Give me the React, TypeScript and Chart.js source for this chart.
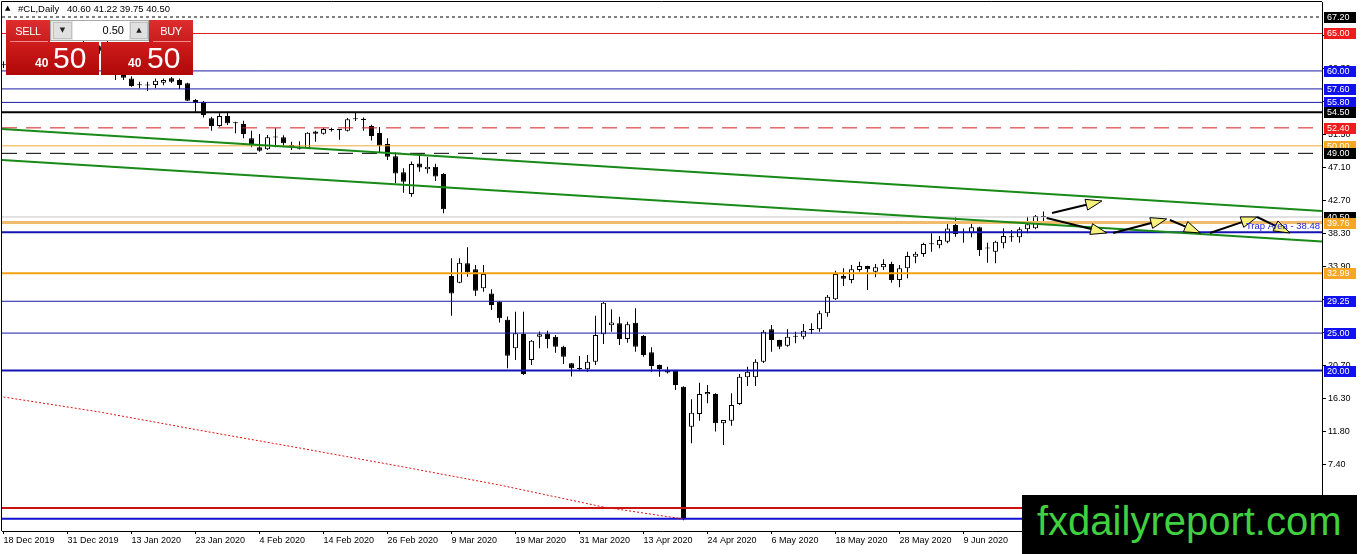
import React, { useEffect, useRef } from "react";
import { Chart, registerables } from "chart.js";

Chart.register(...registerables);

// ---- x axis (bar index) date labels ----
const tickBars = [0, 8, 16, 24, 32, 40, 48, 56, 64, 72, 80, 88, 96, 104, 112, 120];
const tickDates = [
  "18 Dec 2019", "31 Dec 2019", "13 Jan 2020", "23 Jan 2020", "4 Feb 2020", "14 Feb 2020",
  "26 Feb 2020", "9 Mar 2020", "19 Mar 2020", "31 Mar 2020", "13 Apr 2020", "24 Apr 2020",
  "6 May 2020", "18 May 2020", "28 May 2020", "9 Jun 2020",
];

// ---- price axis tick labels ----
const priceTicks = [64.7, 60.3, 55.9, 51.5, 47.1, 42.7, 38.3, 33.9, 29.5, 25.1, 20.7, 16.3, 11.8, 7.4, 2.9];

// ---- daily OHLC (#CL) ----
const opens = [
  60.9, 60.9, 61.2, 60.4, 60.5, 61.1, 61.7, 61.7, 61.7, 61.2, 61.2, 63.0, 63.3, 62.7, 59.7, 59.6,
  59.0, 58.12, 58.2, 58.12, 58.43, 59.02, 58.79, 58.35, 56.12, 55.9, 53.68, 52.65, 53.98, 53.1, 52.92, 51.0,
  49.8, 49.54, 51.2, 51.14, 50.1, 49.6, 49.67, 51.9, 51.6, 52.1, 52.15, 52.02, 53.6, 53.6, 52.65, 51.7,
  50.25, 48.6, 46.46, 43.57, 47.65, 46.87, 47.2, 46.25, 32.62, 31.73, 34.32, 33.52, 30.98, 30.3, 29.2, 26.79,
  22.97, 24.88, 21.41, 24.5, 24.9, 24.52, 23.18, 20.97, 20.3, 20.17, 21.18, 24.84, 26.05, 26.3, 24.2, 26.38,
  24.61, 22.44, 20.75, 20.05, 19.98, 17.85, 12.51, 14.2, 16.83, 16.87, 12.96, 13.31, 15.54, 19.1, 19.1, 21.18,
  25.51, 24.08, 23.32, 24.5, 24.52, 25.55, 25.51, 27.65, 29.51, 32.62, 32.09, 33.43, 33.96, 33.2, 33.78, 34.22,
  32.09, 33.65, 35.2, 35.56, 36.85, 36.73, 37.2, 39.43, 38.45, 38.41, 39.12, 36.35, 35.87, 36.99, 37.79, 37.79,
  38.86, 38.99, 40.6,
];
const highs = [
  61.3, 61.4, 61.4, 60.7, 61.2, 61.8, 62.3, 62.0, 61.9, 61.6, 64.1, 63.8, 63.4, 65.6, 60.2, 60.0,
  59.3, 58.56, 58.56, 59.0, 59.0, 59.2, 59.0, 58.43, 56.25, 56.0, 53.9, 54.34, 54.56, 53.22, 53.36, 52.0,
  51.58, 51.45, 52.34, 51.4, 50.55, 50.6, 51.8, 52.0, 52.4, 52.4, 52.2, 53.7, 54.43, 53.8, 52.8, 52.5,
  51.0, 49.1, 47.0, 47.9, 48.8, 48.5, 47.6, 46.33, 35.0, 35.0, 36.45, 34.1, 34.1, 30.84, 29.3, 27.2,
  27.86, 27.86, 24.08, 25.2, 25.32, 24.75, 23.3, 21.0, 21.95, 22.08, 27.3, 29.2, 28.18, 27.18, 26.52, 28.31,
  24.74, 23.1, 20.8, 20.5, 20.05, 17.9, 16.17, 18.38, 18.07, 16.96, 13.4, 16.96, 19.54, 20.52, 21.5, 25.42,
  26.08, 24.1, 25.51, 25.19, 26.22, 26.31, 27.99, 30.09, 33.33, 33.65, 34.09, 34.53, 34.0, 34.22, 34.85, 34.53,
  34.09, 35.87, 35.87, 37.07, 38.32, 37.96, 39.65, 40.45, 38.98, 39.74, 39.2, 37.07, 37.34, 38.99, 38.76, 39.12,
  40.54, 40.76, 41.22,
];
const lows = [
  60.4, 60.6, 60.2, 60.0, 60.4, 61.0, 61.5, 61.4, 60.6, 60.6, 61.0, 62.3, 62.3, 59.6, 58.8, 58.8,
  57.9, 57.68, 57.32, 57.68, 58.1, 58.39, 57.6, 56.0, 54.56, 53.8, 52.0, 52.56, 52.78, 51.67, 51.0, 49.8,
  49.22, 49.45, 49.8, 49.9, 49.45, 49.5, 49.6, 50.55, 51.5, 51.9, 50.8, 51.9, 53.3, 52.0, 50.7, 49.1,
  48.1, 45.0, 43.75, 43.2, 46.55, 46.3, 45.3, 41.0, 27.3, 31.65, 32.53, 29.95, 30.53, 28.1, 26.43, 20.3,
  21.4, 19.4, 20.75, 22.97, 22.97, 22.38, 20.87, 19.2, 19.98, 19.85, 20.75, 23.55, 25.18, 23.41, 23.72, 22.52,
  21.85, 19.85, 19.18, 19.6, 17.4, 0.0, 10.29, 13.31, 15.63, 11.85, 10.06, 12.64, 15.4, 17.94, 17.94, 21.0,
  22.52, 22.85, 23.18, 23.65, 24.19, 24.88, 25.19, 27.19, 29.42, 31.28, 31.65, 33.2, 30.76, 32.45, 33.43, 31.73,
  31.12, 32.32, 34.31, 35.2, 35.87, 36.32, 36.99, 37.87, 37.07, 37.79, 35.3, 34.4, 34.31, 36.32, 37.2, 37.07,
  38.32, 38.86, 39.75,
];
const closes = [
  60.9, 61.2, 60.4, 60.5, 61.1, 61.7, 61.7, 61.7, 61.1, 61.2, 63.0, 63.3, 62.7, 59.7, 59.6, 59.1,
  58.0, 58.1, 58.2, 58.7, 58.79, 58.56, 58.12, 56.03, 55.72, 54.12, 52.65, 53.98, 53.0, 53.0, 51.58, 50.25,
  49.35, 51.14, 51.1, 50.34, 49.8, 49.7, 51.75, 51.6, 52.25, 52.2, 52.1, 53.55, 53.55, 53.45, 51.3, 50.0,
  48.55, 46.3, 45.2, 47.57, 47.1, 47.2, 45.9, 41.53, 30.3, 34.4, 33.12, 30.66, 32.9, 28.76, 26.98, 21.98,
  24.97, 19.54, 23.99, 24.85, 24.2, 23.18, 21.85, 20.3, 20.2, 21.18, 24.74, 29.06, 26.4, 24.2, 26.17, 23.18,
  22.07, 20.6, 20.2, 19.75, 18.07, 0.15, 14.38, 16.87, 17.14, 12.96, 13.4, 15.4, 19.18, 19.85, 21.18, 25.19,
  24.08, 23.18, 24.52, 24.55, 25.32, 25.4, 27.65, 29.86, 32.9, 32.26, 33.52, 33.96, 33.52, 33.78, 34.22, 32.09,
  33.65, 35.29, 35.58, 36.9, 36.95, 37.43, 38.98, 38.23, 38.4, 39.12, 36.1, 36.3, 37.2, 37.96, 37.8, 38.86,
  39.52, 40.63, 40.5,
];

// ---- red dotted indicator line ----
const maBars = [0, 12, 25, 37, 50, 62, 75, 85];
const maValues = [16.47, 14.47, 11.93, 9.66, 7.13, 4.72, 1.78, 0.18];

// ---- green trend channel (values at left and right edge) ----
const upperTrend = [52.25, 41.3];
const lowerTrend = [48.11, 37.23];

// ---- horizontal levels ----
const levelValues = [67.2, 65.0, 60.0, 57.6, 55.8, 54.5, 52.4, 50.0, 49.0, 40.5, 39.76, 38.48, 32.99, 29.25, 25.0, 20.0, 1.65, 0.2];
const levelColors = [
  "#000000", "#e01b1b", "#1c1ca6", "#1c1ca6", "#1c1ca6", "#000000", "#d81c1c", "#f2a93b", "#000000",
  "#c4c4c4", "#f0bc6c", "#1414b4", "#f5a20f", "#1c1ca6", "#1c1ca6", "#1414b4", "#cc1111", "#1010d0",
];
const levelWidths = [1, 1, 1, 1, 1, 2, 1, 1, 1, 1, 3, 2, 2, 1, 1, 2, 2, 2];
const levelDashes = [[3, 3], [], [], [], [], [], [15, 9], [], [15, 9], [], [], [], [], [], [], [], [], []];
const tagColors = [
  "#000000", "#ee1c1c", "#1010f0", "#1010f0", "#1010f0", "#000000", "#ee1c1c", "#f5a623", "#000000",
  "#000000", "#f5a623", "", "#f5a623", "#1010f0", "#1010f0", "#1010f0", "", "",
];
const trapText = "Trap Area - 38.48";
const trapLevel = 38.48;

// ---- arrows (bar index, price) ----
const arrowFromBar = [131.06, 130.4, 138.7, 145.8, 150.8, 156.7];
const arrowFromPrice = [41.04, 40.37, 38.37, 40.1, 38.37, 40.5];
const arrowToBar = [137.3, 137.9, 145.4, 149.6, 156.7, 160.8];
const arrowToPrice = [42.64, 38.37, 40.24, 38.37, 40.5, 38.37];

const X_MIN = -0.1875;
const X_MAX = 164.8125;
const Y_MIN = -1.42;
const Y_MAX = 69.203;

const FONT = "'Liberation Sans', Arial, sans-serif";

const overlayPlugin = {
  id: "overlay",
  afterDraw(chart: any) {
    const { ctx, chartArea, scales } = chart;
    const xs = scales.x;
    const ys = scales.y;
    ctx.save();
    // frame top/left
    ctx.strokeStyle = "#000";
    ctx.lineWidth = 1;
    ctx.beginPath();
    ctx.moveTo(chartArea.left - 0.5, chartArea.bottom);
    ctx.lineTo(chartArea.left - 0.5, chartArea.top - 0.5);
    ctx.lineTo(chartArea.right, chartArea.top - 0.5);
    ctx.stroke();

    // arrows
    for (let k = 0; k < arrowFromBar.length; k++) {
      const x1 = xs.getPixelForValue(arrowFromBar[k]);
      const y1 = ys.getPixelForValue(arrowFromPrice[k]);
      const x2 = xs.getPixelForValue(arrowToBar[k]);
      const y2 = ys.getPixelForValue(arrowToPrice[k]);
      const ang = Math.atan2(y2 - y1, x2 - x1);
      const L = 16;
      const W = 5.5;
      const bx = x2 - L * Math.cos(ang);
      const by = y2 - L * Math.sin(ang);
      ctx.strokeStyle = "#000";
      ctx.lineWidth = 2;
      ctx.beginPath();
      ctx.moveTo(x1, y1);
      ctx.lineTo(bx, by);
      ctx.stroke();
      ctx.beginPath();
      ctx.moveTo(x2, y2);
      ctx.lineTo(bx + W * Math.sin(ang), by - W * Math.cos(ang));
      ctx.lineTo(bx - W * Math.sin(ang), by + W * Math.cos(ang));
      ctx.closePath();
      ctx.fillStyle = "#f6f07c";
      ctx.fill();
      ctx.lineWidth = 1;
      ctx.stroke();
    }

    // trap area text
    ctx.fillStyle = "#2323d8";
    ctx.font = `9.5px ${FONT}`;
    ctx.textAlign = "right";
    ctx.textBaseline = "alphabetic";
    ctx.fillText(trapText, chartArea.right - 2, ys.getPixelForValue(trapLevel) - 3);

    // level tags on the price axis
    ctx.font = `9px ${FONT}`;
    ctx.textAlign = "left";
    ctx.textBaseline = "middle";
    for (let k = 0; k < levelValues.length; k++) {
      if (!tagColors[k]) continue;
      const y = Math.round(ys.getPixelForValue(levelValues[k]));
      ctx.fillStyle = tagColors[k];
      ctx.fillRect(chartArea.right + 2, y - 5, 32, 11);
      ctx.fillStyle = "#ffffff";
      ctx.fillText(levelValues[k].toFixed(2), chartArea.right + 5, y + 0.5);
    }
    ctx.restore();
  },
};

export default function App() {
  const ref = useRef<HTMLCanvasElement>(null);

  useEffect(() => {
    const canvas = ref.current;
    if (!canvas) return;
    const wicks = opens.map((_, i) => ({ x: i, y: [lows[i], highs[i]] }));
    const bodies = opens.map((o, i) => ({ x: i, y: [o, closes[i]] }));
    const bodyFill = opens.map((o, i) => (closes[i] >= o ? "#ffffff" : "#000000"));

    const levelSets = levelValues.map((v, k) => ({
      type: "line" as const,
      data: [{ x: X_MIN, y: v }, { x: X_MAX, y: v }],
      borderColor: levelColors[k],
      borderWidth: levelWidths[k],
      borderDash: levelDashes[k],
      pointRadius: 0,
      order: 2,
    }));

    const chart = new Chart(canvas, {
      type: "bar",
      data: {
        datasets: [
          {
            type: "bar",
            data: wicks as any,
            backgroundColor: "#000000",
            borderWidth: 0,
            barThickness: 1,
            grouped: false,
            inflateAmount: 0,
            order: 10,
          } as any,
          {
            type: "bar",
            data: bodies as any,
            backgroundColor: bodyFill,
            borderColor: "#000000",
            borderWidth: 1,
            borderSkipped: false,
            barThickness: 5,
            minBarLength: 1,
            grouped: false,
            inflateAmount: 0,
            order: 9,
          } as any,
          ...levelSets,
          {
            type: "line",
            data: [{ x: X_MIN, y: upperTrend[0] }, { x: X_MAX, y: upperTrend[1] }],
            borderColor: "#178a17",
            borderWidth: 2,
            pointRadius: 0,
            order: 1,
          },
          {
            type: "line",
            data: [{ x: X_MIN, y: lowerTrend[0] }, { x: X_MAX, y: lowerTrend[1] }],
            borderColor: "#178a17",
            borderWidth: 2,
            pointRadius: 0,
            order: 1,
          },
          {
            type: "line",
            data: maBars.map((b, k) => ({ x: b, y: maValues[k] })),
            borderColor: "#dd1111",
            borderWidth: 1,
            borderDash: [2, 2],
            pointRadius: 0,
            order: 1,
          },
        ] as any,
      },
      options: {
        animation: false,
        responsive: false,
        maintainAspectRatio: false,
        devicePixelRatio: 1,
        events: [],
        layout: { padding: { left: 2, top: 2, right: 0, bottom: 0 } },
        font: { family: FONT },
        plugins: { legend: { display: false }, tooltip: { enabled: false } },
        scales: {
          x: {
            type: "linear",
            position: "bottom",
            min: X_MIN,
            max: X_MAX,
            offset: false,
            bounds: "data",
            grid: { drawOnChartArea: false, drawTicks: true, tickLength: 3, color: "#000", offset: false },
            border: { display: true, color: "#000" },
            ticks: {
              autoSkip: false,
              maxRotation: 0,
              minRotation: 0,
              align: "start",
              padding: 1,
              color: "#000",
              font: { size: 9, family: FONT },
              callback: (v: any) => {
                const k = tickBars.indexOf(Number(v));
                return k >= 0 ? tickDates[k] : "";
              },
            },
            afterBuildTicks: (s: any) => {
              s.ticks = tickBars.map((v) => ({ value: v }));
            },
            afterFit: (s: any) => {
              s.height = 23;
              s.paddingLeft = 0;
              s.paddingRight = 0;
            },
          } as any,
          y: {
            type: "linear",
            position: "right",
            min: Y_MIN,
            max: Y_MAX,
            bounds: "data",
            grid: { drawOnChartArea: false, drawTicks: true, tickLength: 4, color: "#000" },
            border: { display: true, color: "#000" },
            ticks: {
              padding: 2,
              color: "#000",
              font: { size: 9, family: FONT },
              callback: (v: any) => Number(v).toFixed(2),
            },
            afterBuildTicks: (s: any) => {
              s.ticks = priceTicks.map((v) => ({ value: v }));
            },
            afterFit: (s: any) => {
              s.width = 40;
              s.paddingTop = 0;
              s.paddingBottom = 0;
            },
          } as any,
        },
      } as any,
      plugins: [overlayPlugin],
    });
    return () => chart.destroy();
  }, []);

  const redTop = "linear-gradient(#de2e2e, #c81c1c)";
  const redBig = "linear-gradient(#d01c1c, #b00808)";
  const abs = (l: number, t: number, w: number, h: number): React.CSSProperties => ({
    position: "absolute",
    left: l,
    top: t,
    width: w,
    height: h,
  });

  return (
    <div
      style={{
        position: "fixed",
        left: 0,
        top: 0,
        width: 1362,
        height: 554,
        background: "#ffffff",
        overflow: "hidden",
        fontFamily: FONT,
      }}
    >
      <canvas ref={ref} width={1362} height={554} style={{ position: "absolute", left: 0, top: 0 }} />

      {/* header */}
      <span style={{ position: "absolute", left: 5, top: 3, fontSize: 7, fontFamily: "'DejaVu Sans'", lineHeight: "10px" }}>▲</span>
      <span style={{ position: "absolute", left: 18, top: 3, fontSize: 9.5, lineHeight: "11px", color: "#000" }}>#CL,Daily</span>
      <span style={{ position: "absolute", left: 67, top: 3, fontSize: 9.5, lineHeight: "11px", color: "#000" }}>40.60 41.22 39.75 40.50</span>

      {/* one-click trading panel */}
      <div style={{ ...abs(6, 20, 44, 22), background: redTop, color: "#fff", fontSize: 11, lineHeight: "22px", textAlign: "center", letterSpacing: -0.3 }}>
        SELL
      </div>
      <div style={{ ...abs(10, 41, 38, 1), background: "#f08a8a" }} />
      <div style={{ ...abs(6, 42, 93, 33), background: redBig, color: "#fff" }}>
        <span style={{ position: "absolute", left: 29, top: 14, fontSize: 12, fontWeight: "bold", lineHeight: "14px" }}>40</span>
        <span style={{ position: "absolute", left: 47, top: -1, fontSize: 30, lineHeight: "34px" }}>50</span>
      </div>

      <div style={{ ...abs(50, 20, 99, 21), background: "#e6e6e6", border: "1px solid #a9a9a9", boxSizing: "border-box" }}>
        <div style={{ ...abs(2, 1, 19, 17), background: "#e0e0e0", border: "1px solid #c0c0c0", boxSizing: "border-box", fontSize: 7, lineHeight: "15px", textAlign: "center", fontFamily: "'DejaVu Sans'", color: "#222" }}>▼</div>
        <div style={{ ...abs(22, 0, 56, 19), background: "#ffffff", fontSize: 11, lineHeight: "19px", textAlign: "right", paddingRight: 5, boxSizing: "border-box", color: "#000" }}>0.50</div>
        <div style={{ ...abs(79, 1, 18, 17), background: "#e0e0e0", border: "1px solid #c0c0c0", boxSizing: "border-box", fontSize: 7, lineHeight: "15px", textAlign: "center", fontFamily: "'DejaVu Sans'", color: "#222" }}>▲</div>
      </div>

      <div style={{ ...abs(149, 20, 44, 22), background: redTop, color: "#fff", fontSize: 11, lineHeight: "22px", textAlign: "center", letterSpacing: -0.3 }}>
        BUY
      </div>
      <div style={{ ...abs(153, 41, 38, 1), background: "#f08a8a" }} />
      <div style={{ ...abs(101, 42, 92, 33), background: redBig, color: "#fff" }}>
        <span style={{ position: "absolute", left: 27, top: 14, fontSize: 12, fontWeight: "bold", lineHeight: "14px" }}>40</span>
        <span style={{ position: "absolute", left: 46, top: -1, fontSize: 30, lineHeight: "34px" }}>50</span>
      </div>

      {/* watermark */}
      <div style={{ ...abs(1022, 495, 335, 59), background: "#000" }}>
        <span style={{ position: "absolute", left: 15, top: 6, fontSize: 40, lineHeight: "40px", color: "#3fd13f", whiteSpace: "nowrap" }}>
          fxdailyreport.com
        </span>
      </div>
    </div>
  );
}
